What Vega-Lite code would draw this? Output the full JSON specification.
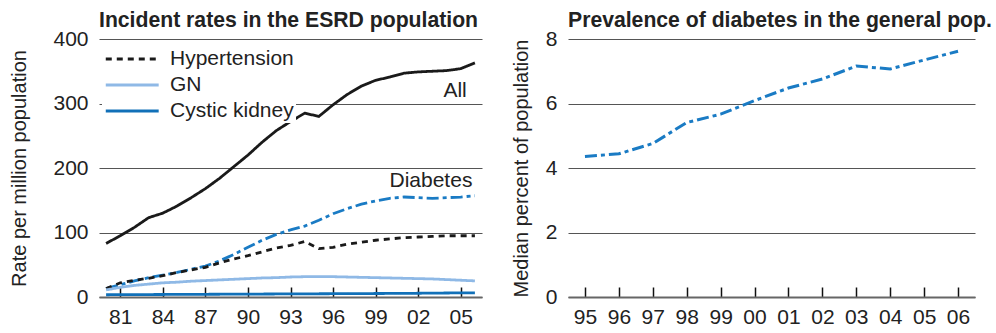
{
  "$schema": "https://vega.github.io/schema/vega-lite/v6.json",
  "background": "white",
  "padding": {"left": 9, "top": 9, "right": 0, "bottom": 0},
  "spacing": 29,
  "config": {
    "font": "Liberation Sans",
    "view": {"stroke": null},
    "axis": {"labelFont": "Liberation Sans", "labelColor": "#222", "labelFontSize": 21, "titleFont": "Liberation Sans", "titleFontSize": 20, "titleFontWeight": "normal", "titleColor": "#222"},
    "title": {"font": "Liberation Sans", "fontSize": 21.2, "fontWeight": "bold", "anchor": "start", "frame": "group", "color": "#222", "offset": -3},
    "legend": {"labelFont": "Liberation Sans"}
  },
  "datasets": {
    "esrd": [
      {"year": 1980, "series": "All", "rate": 83}, {"year": 1981, "series": "All", "rate": 95}, {"year": 1982, "series": "All", "rate": 108}, {"year": 1983, "series": "All", "rate": 123}, {"year": 1984, "series": "All", "rate": 130}, {"year": 1985, "series": "All", "rate": 141}, {"year": 1986, "series": "All", "rate": 154}, {"year": 1987, "series": "All", "rate": 168}, {"year": 1988, "series": "All", "rate": 184}, {"year": 1989, "series": "All", "rate": 202}, {"year": 1990, "series": "All", "rate": 220}, {"year": 1991, "series": "All", "rate": 240}, {"year": 1992, "series": "All", "rate": 258}, {"year": 1993, "series": "All", "rate": 272}, {"year": 1994, "series": "All", "rate": 285}, {"year": 1995, "series": "All", "rate": 280}, {"year": 1996, "series": "All", "rate": 298}, {"year": 1997, "series": "All", "rate": 314}, {"year": 1998, "series": "All", "rate": 327}, {"year": 1999, "series": "All", "rate": 336}, {"year": 2000, "series": "All", "rate": 341}, {"year": 2001, "series": "All", "rate": 347}, {"year": 2002, "series": "All", "rate": 349}, {"year": 2003, "series": "All", "rate": 350}, {"year": 2004, "series": "All", "rate": 351}, {"year": 2005, "series": "All", "rate": 354}, {"year": 2006, "series": "All", "rate": 363},
      {"year": 1980, "series": "Diabetes", "rate": 13}, {"year": 1981, "series": "Diabetes", "rate": 19}, {"year": 1982, "series": "Diabetes", "rate": 25}, {"year": 1983, "series": "Diabetes", "rate": 30}, {"year": 1984, "series": "Diabetes", "rate": 34}, {"year": 1985, "series": "Diabetes", "rate": 38}, {"year": 1986, "series": "Diabetes", "rate": 43}, {"year": 1987, "series": "Diabetes", "rate": 48}, {"year": 1988, "series": "Diabetes", "rate": 56}, {"year": 1989, "series": "Diabetes", "rate": 66}, {"year": 1990, "series": "Diabetes", "rate": 77}, {"year": 1991, "series": "Diabetes", "rate": 88}, {"year": 1992, "series": "Diabetes", "rate": 97}, {"year": 1993, "series": "Diabetes", "rate": 104}, {"year": 1994, "series": "Diabetes", "rate": 110}, {"year": 1995, "series": "Diabetes", "rate": 119}, {"year": 1996, "series": "Diabetes", "rate": 129}, {"year": 1997, "series": "Diabetes", "rate": 137}, {"year": 1998, "series": "Diabetes", "rate": 144}, {"year": 1999, "series": "Diabetes", "rate": 149}, {"year": 2000, "series": "Diabetes", "rate": 153}, {"year": 2001, "series": "Diabetes", "rate": 155}, {"year": 2002, "series": "Diabetes", "rate": 154}, {"year": 2003, "series": "Diabetes", "rate": 153}, {"year": 2004, "series": "Diabetes", "rate": 154}, {"year": 2005, "series": "Diabetes", "rate": 155}, {"year": 2006, "series": "Diabetes", "rate": 157},
      {"year": 1980, "series": "Hypertension", "rate": 13}, {"year": 1981, "series": "Hypertension", "rate": 22}, {"year": 1982, "series": "Hypertension", "rate": 26}, {"year": 1983, "series": "Hypertension", "rate": 29}, {"year": 1984, "series": "Hypertension", "rate": 33}, {"year": 1985, "series": "Hypertension", "rate": 38}, {"year": 1986, "series": "Hypertension", "rate": 42}, {"year": 1987, "series": "Hypertension", "rate": 46}, {"year": 1988, "series": "Hypertension", "rate": 53}, {"year": 1989, "series": "Hypertension", "rate": 59}, {"year": 1990, "series": "Hypertension", "rate": 64}, {"year": 1991, "series": "Hypertension", "rate": 70}, {"year": 1992, "series": "Hypertension", "rate": 76}, {"year": 1993, "series": "Hypertension", "rate": 80}, {"year": 1994, "series": "Hypertension", "rate": 86}, {"year": 1995, "series": "Hypertension", "rate": 75}, {"year": 1996, "series": "Hypertension", "rate": 77}, {"year": 1997, "series": "Hypertension", "rate": 82}, {"year": 1998, "series": "Hypertension", "rate": 85}, {"year": 1999, "series": "Hypertension", "rate": 88}, {"year": 2000, "series": "Hypertension", "rate": 90}, {"year": 2001, "series": "Hypertension", "rate": 92}, {"year": 2002, "series": "Hypertension", "rate": 93}, {"year": 2003, "series": "Hypertension", "rate": 94}, {"year": 2004, "series": "Hypertension", "rate": 95}, {"year": 2005, "series": "Hypertension", "rate": 95}, {"year": 2006, "series": "Hypertension", "rate": 95},
      {"year": 1980, "series": "GN", "rate": 11}, {"year": 1981, "series": "GN", "rate": 15}, {"year": 1982, "series": "GN", "rate": 18}, {"year": 1983, "series": "GN", "rate": 20}, {"year": 1984, "series": "GN", "rate": 22}, {"year": 1985, "series": "GN", "rate": 23}, {"year": 1986, "series": "GN", "rate": 24.5}, {"year": 1987, "series": "GN", "rate": 25.5}, {"year": 1988, "series": "GN", "rate": 26.5}, {"year": 1989, "series": "GN", "rate": 27.5}, {"year": 1990, "series": "GN", "rate": 28.5}, {"year": 1991, "series": "GN", "rate": 29.5}, {"year": 1992, "series": "GN", "rate": 30}, {"year": 1993, "series": "GN", "rate": 31}, {"year": 1994, "series": "GN", "rate": 31.5}, {"year": 1995, "series": "GN", "rate": 31.5}, {"year": 1996, "series": "GN", "rate": 31.5}, {"year": 1997, "series": "GN", "rate": 31}, {"year": 1998, "series": "GN", "rate": 30.5}, {"year": 1999, "series": "GN", "rate": 30}, {"year": 2000, "series": "GN", "rate": 29.5}, {"year": 2001, "series": "GN", "rate": 29}, {"year": 2002, "series": "GN", "rate": 28.5}, {"year": 2003, "series": "GN", "rate": 28}, {"year": 2004, "series": "GN", "rate": 27}, {"year": 2005, "series": "GN", "rate": 26}, {"year": 2006, "series": "GN", "rate": 25},
      {"year": 1980, "series": "Cystic kidney", "rate": 3.5}, {"year": 1981, "series": "Cystic kidney", "rate": 3.6}, {"year": 1982, "series": "Cystic kidney", "rate": 3.7}, {"year": 1983, "series": "Cystic kidney", "rate": 3.8}, {"year": 1984, "series": "Cystic kidney", "rate": 3.9}, {"year": 1985, "series": "Cystic kidney", "rate": 4}, {"year": 1986, "series": "Cystic kidney", "rate": 4.1}, {"year": 1987, "series": "Cystic kidney", "rate": 4.2}, {"year": 1988, "series": "Cystic kidney", "rate": 4.3}, {"year": 1989, "series": "Cystic kidney", "rate": 4.4}, {"year": 1990, "series": "Cystic kidney", "rate": 4.5}, {"year": 1991, "series": "Cystic kidney", "rate": 4.6}, {"year": 1992, "series": "Cystic kidney", "rate": 4.7}, {"year": 1993, "series": "Cystic kidney", "rate": 4.8}, {"year": 1994, "series": "Cystic kidney", "rate": 4.9}, {"year": 1995, "series": "Cystic kidney", "rate": 5}, {"year": 1996, "series": "Cystic kidney", "rate": 5.1}, {"year": 1997, "series": "Cystic kidney", "rate": 5.2}, {"year": 1998, "series": "Cystic kidney", "rate": 5.3}, {"year": 1999, "series": "Cystic kidney", "rate": 5.4}, {"year": 2000, "series": "Cystic kidney", "rate": 5.5}, {"year": 2001, "series": "Cystic kidney", "rate": 5.6}, {"year": 2002, "series": "Cystic kidney", "rate": 5.8}, {"year": 2003, "series": "Cystic kidney", "rate": 6}, {"year": 2004, "series": "Cystic kidney", "rate": 6.2}, {"year": 2005, "series": "Cystic kidney", "rate": 6.4}, {"year": 2006, "series": "Cystic kidney", "rate": 6.5}
    ],
    "labels": [
      {"year": 2004.6, "rate": 320, "label": "All"},
      {"year": 2002.9, "rate": 180, "label": "Diabetes"}
    ],
    "prev": [
      {"year": 1995, "pct": 4.36}, {"year": 1996, "pct": 4.44}, {"year": 1997, "pct": 4.76}, {"year": 1998, "pct": 5.41}, {"year": 1999, "pct": 5.67}, {"year": 2000, "pct": 6.09}, {"year": 2001, "pct": 6.48}, {"year": 2002, "pct": 6.76}, {"year": 2003, "pct": 7.16}, {"year": 2004, "pct": 7.07}, {"year": 2005, "pct": 7.35}, {"year": 2006, "pct": 7.62}
    ]
  },
  "hconcat": [
    {
      "width": 383,
      "height": 258,
      "title": {"text": "Incident rates in the ESRD population"},
      "layer": [
        {
          "data": {"name": "esrd"},
          "mark": {"type": "line", "strokeWidth": 2.8},
          "encoding": {
            "x": {"field": "year", "type": "quantitative", "scale": {"domain": [1979.5, 2006.5], "nice": false, "zero": false},
              "axis": {"title": null, "values": [1981, 1984, 1987, 1990, 1993, 1996, 1999, 2002, 2005], "labelExpr": "substring(toString(datum.value), 2, 4)", "grid": false, "tickSize": -10, "tickColor": "#111", "tickWidth": 1.5, "domainColor": "#666", "domainWidth": 2, "labelPadding": 19, "labelFlush": false}},
            "y": {"field": "rate", "type": "quantitative", "scale": {"domain": [0, 400], "nice": false},
              "axis": {"title": "Rate per million population", "values": [0, 100, 200, 300, 400], "grid": true, "gridColor": "#555", "gridWidth": 1, "ticks": false, "domain": false, "labelPadding": 11, "titlePadding": 23}},
            "color": {"field": "series", "type": "nominal",
              "scale": {"domain": ["Hypertension", "GN", "Cystic kidney", "All", "Diabetes"], "range": ["#1a1a1a", "#8fb9e6", "#1170b8", "#1a1a1a", "#1a7bc4"]},
              "legend": {"values": ["Hypertension", "GN", "Cystic kidney"], "title": null, "orient": "none", "legendX": 3, "legendY": 3, "padding": 2, "fillColor": "white", "symbolType": "M-1,0H3", "symbolSize": 700, "symbolStrokeWidth": 3, "labelFontSize": 21, "labelColor": "#222", "labelOffset": 36, "rowPadding": 1}},
            "strokeDash": {"field": "series", "type": "nominal",
              "scale": {"domain": ["Hypertension", "GN", "Cystic kidney", "All", "Diabetes"], "range": [[6, 5], [1, 0], [1, 0], [1, 0], [12, 4, 4, 4]]},
              "legend": {"values": ["Hypertension", "GN", "Cystic kidney"], "title": null, "orient": "none", "legendX": 3, "legendY": 3, "padding": 2, "fillColor": "white", "symbolType": "M-1,0H3", "symbolSize": 700, "symbolStrokeWidth": 3, "labelFontSize": 21, "labelColor": "#222", "labelOffset": 36, "rowPadding": 1}}
          }
        },
        {
          "data": {"name": "labels"},
          "mark": {"type": "text", "fontSize": 21, "color": "#222", "font": "Liberation Sans"},
          "encoding": {
            "x": {"field": "year", "type": "quantitative"},
            "y": {"field": "rate", "type": "quantitative"},
            "text": {"field": "label"}
          }
        }
      ]
    },
    {
      "width": 407,
      "height": 258,
      "title": {"text": "Prevalence of diabetes in the general pop."},
      "data": {"name": "prev"},
      "mark": {"type": "line", "color": "#1a7bc4", "strokeWidth": 3, "strokeDash": [12, 4, 4, 4]},
      "encoding": {
        "x": {"field": "year", "type": "quantitative", "scale": {"domain": [1994.5, 2006.5], "nice": false, "zero": false},
          "axis": {"title": null, "values": [1995, 1996, 1997, 1998, 1999, 2000, 2001, 2002, 2003, 2004, 2005, 2006], "labelExpr": "substring(toString(datum.value), 2, 4)", "grid": false, "tickSize": -10, "tickColor": "#111", "tickWidth": 1.5, "domainColor": "#666", "domainWidth": 2, "labelPadding": 19, "labelFlush": false}},
        "y": {"field": "pct", "type": "quantitative", "scale": {"domain": [0, 8], "nice": false},
          "axis": {"title": "Median percent of population", "values": [0, 2, 4, 6, 8], "grid": true, "gridColor": "#555", "gridWidth": 1, "ticks": false, "domain": false, "labelPadding": 11, "titlePadding": 14}}
      }
    }
  ]
}
